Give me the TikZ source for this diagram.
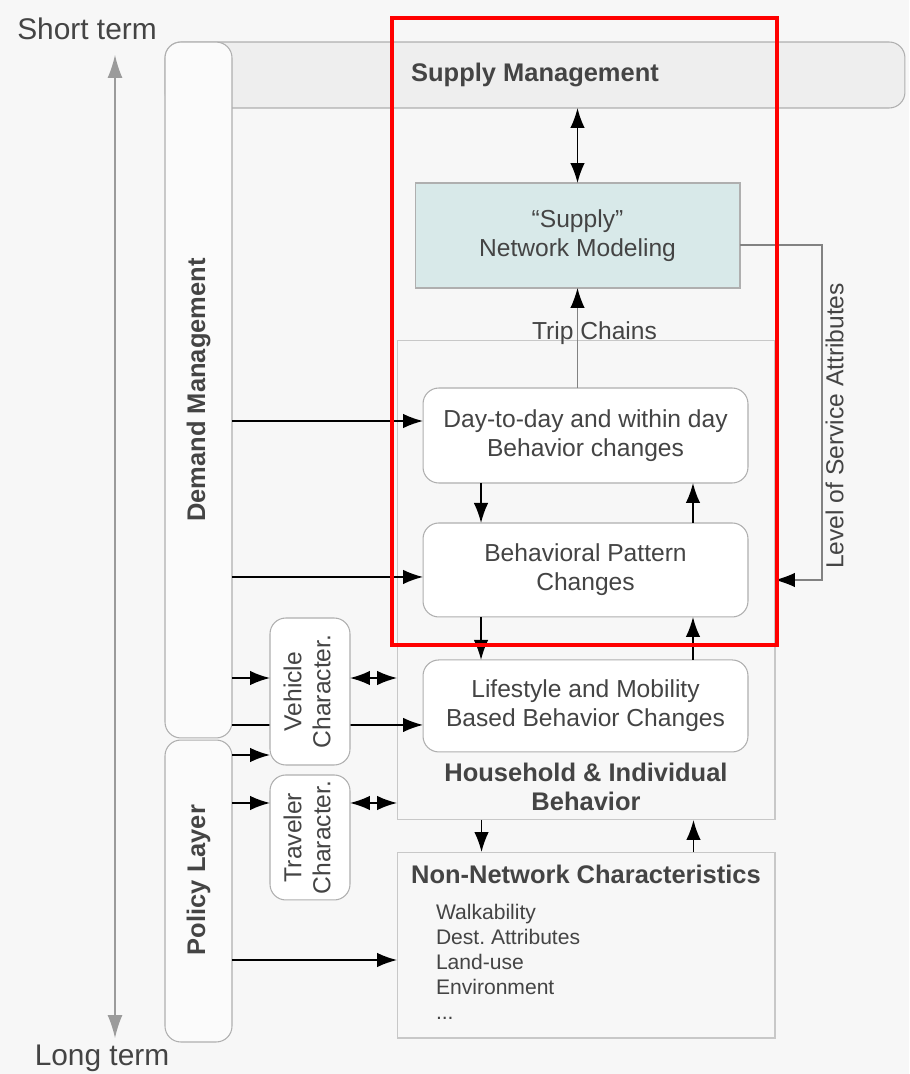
\documentclass[tikz,border=0pt]{standalone}
\usepackage{fontspec}
\setmainfont{Liberation Sans}
\usetikzlibrary{positioning}
\usetikzlibrary{arrows.meta}
\usetikzlibrary{calc}
\definecolor{bgcolor}{RGB}{247,247,247}
\definecolor{barcolor}{RGB}{238,238,238}
\definecolor{sidecolor}{RGB}{251,251,251}
\definecolor{netcolor}{RGB}{216,233,233}
\definecolor{edgecolor}{RGB}{175,175,175}
\definecolor{panelcolor}{RGB}{200,200,200}
\definecolor{txtcolor}{RGB}{68,68,68}
\definecolor{linecolor}{RGB}{130,130,130}
\definecolor{framecolor}{RGB}{255,0,0}

\begin{document}
\begin{tikzpicture}[
    x=0.02cm, y=-0.02cm,
    every node/.style={text=txtcolor, inner sep=0pt, outer sep=0pt},
    panel/.style={rectangle, draw=panelcolor, fill=bgcolor, line width=0.6pt},
    module/.style={rectangle, draw=edgecolor, fill=white, rounded corners=9pt, minimum width=6.5cm, align=center, font=\fontsize{14}{16.5}\selectfont, line width=0.6pt},
    side/.style={rectangle, draw=edgecolor, fill=sidecolor, rounded corners=9pt, minimum width=1.34cm, line width=0.6pt},
    charbox/.style={rectangle, draw=edgecolor, fill=white, rounded corners=9pt, minimum width=1.6cm, align=center, font=\fontsize{14}{16.5}\selectfont, line width=0.6pt},
    title/.style={font=\bfseries\fontsize{14.5}{16.5}\selectfont, align=center},
    arrow/.style={-{Latex[length=4mm, width=2.9mm]}, line width=0.9pt},
    bidir/.style={{Latex[length=4mm, width=2.9mm]}-{Latex[length=4mm, width=2.9mm]}, line width=0.9pt},
    grayarrow/.style={draw=linecolor, -{Latex[length=4mm, width=2.9mm, color=black]}, line width=0.7pt},
    timeline/.style={draw=linecolor!80, {Latex[length=4.6mm, width=3mm]}-{Latex[length=4.6mm, width=3mm]}, line width=0.7pt}
]

% Background
\fill[bgcolor] (0,0) rectangle (909,1074);
\useasboundingbox (0,0) rectangle (909,1074);

% Time axis
\node[font=\fontsize{17}{20}\selectfont] (shortterm) at (87,29) {Short term};
\node[font=\fontsize{17}{20}\selectfont] (longterm) at (102,1058) {Long term};
\coordinate (ttop) at (115,55);
\coordinate (tbot) at (115,1038);
\draw[timeline] (tbot) -- (ttop);

% Supply management bar
\node[panel, draw=edgecolor, fill=barcolor, rounded corners=9pt, minimum width=14.8cm, minimum height=1.32cm, title] (suppmgmt) at (535,75) {Supply Management};

% Side layers
\node[side, minimum height=13.92cm] (demand) at (198.5,390) {};
\node[title, rotate=90] (demandlabel) at (demand) {Demand Management};
\node[side, minimum height=6.04cm] (policy) at (198.5,891) {};
\node[title, rotate=90] (policylabel) at ([yshift=0.22cm]policy) {Policy Layer};

% Household panel
\node[panel, minimum width=7.56cm, minimum height=9.6cm] (household) at (586,580) {};
\node[title, above=0.18cm of household.south] (hhlabel) {Household \& Individual\\Behavior};

% Network modeling
\node[rectangle, draw=edgecolor, fill=netcolor, minimum width=6.5cm, minimum height=2.1cm, align=center, font=\fontsize{14}{16.5}\selectfont, line width=0.6pt] (network) at (577.5,235.5) {“Supply”\\Network Modeling};

% Behaviour levels
\node[module, minimum height=1.9cm] (dayb) at (585.5,435.5) {Day-to-day and within day\\Behavior changes};
\node[module, minimum height=1.88cm, below=0.8cm of dayb] (patt) {Behavioral Pattern\\Changes};
\node[module, minimum height=1.84cm, below=0.86cm of patt] (life) {Lifestyle and Mobility\\Based Behavior Changes};

% Non-network characteristics
\node[panel, minimum width=7.56cm, minimum height=3.72cm] (nonnet) at (586,945) {};
\node[title, below=0.26cm of nonnet.north] (nntitle) {Non-Network Characteristics};
\node[anchor=north west, align=left, font=\fontsize{12}{14.2}\selectfont] (nnlist) at (436,904) {Walkability\\Dest.\ Attributes\\Land-use\\Environment\\...};

% Arrow behind the vehicle box
\coordinate (l1) at ([yshift=-0.38cm]life.west);
\draw[arrow] (l1 -| demand.east) -- (l1);

% Characteristics
\node[charbox, minimum height=2.94cm] (vehicle) at (310,691.5) {\rotatebox{90}{\begin{tabular}{@{}c@{}}Vehicle\\Character.\end{tabular}}};
\node[charbox, minimum height=2.5cm, below=0.2cm of vehicle] (traveler) {\rotatebox{90}{\begin{tabular}{@{}c@{}}Traveler\\Character.\end{tabular}}};

% Arrows
\draw[bidir] (network.north |- suppmgmt.south) -- (network.north);
\draw[grayarrow] (dayb.north -| network.south) -- node[pos=0.55, xshift=0.34cm, font=\fontsize{14}{16.5}\selectfont] (tripchains) {Trip Chains} (network.south);
\draw[grayarrow] ([yshift=-0.19cm]network.east) -- ++(82,0) |- node[pos=0.27, anchor=north, rotate=90, inner sep=2pt, font=\fontsize{14}{16.5}\selectfont] (los) {Level of Service Attributes} (household.east);

\coordinate (d1) at ([yshift=0.29cm]dayb.west);
\draw[arrow] (d1 -| demand.east) -- (d1);
\coordinate (d2) at ([yshift=-0.14cm]patt.west);
\draw[arrow] (d2 -| demand.east) -- (d2);

\coordinate (v1) at ([yshift=0.27cm]vehicle.west);
\draw[arrow] (v1 -| demand.east) -- (v1);
\coordinate (v2) at ([yshift=-1.27cm]vehicle.west);
\draw[arrow] (v2 -| policy.east) -- (v2);
\draw[bidir] ([yshift=0.27cm]vehicle.east) -- (v1 -| household.west);

\coordinate (t1) at ([yshift=0.69cm]traveler.west);
\draw[arrow] (t1 -| policy.east) -- (t1);
\draw[bidir] ([yshift=0.69cm]traveler.east) -- (t1 -| household.west);

\coordinate (n1) at ([yshift=-0.3cm]nonnet.west);
\draw[arrow] (n1 -| policy.east) -- (n1);

\foreach \a/\b in {dayb/patt, patt/life, household/nonnet} {
  \draw[arrow] ([xshift=-2.09cm]\a.south) -- ([xshift=-2.09cm]\b.north);
  \draw[arrow] ([xshift=2.15cm]\b.north) -- ([xshift=2.15cm]\a.south);
}

% Highlight frame
\node[draw=framecolor, line width=2.3pt, minimum width=7.7cm, minimum height=12.54cm] (focus) at (584.5,331.5) {};

\end{tikzpicture}
\end{document}
